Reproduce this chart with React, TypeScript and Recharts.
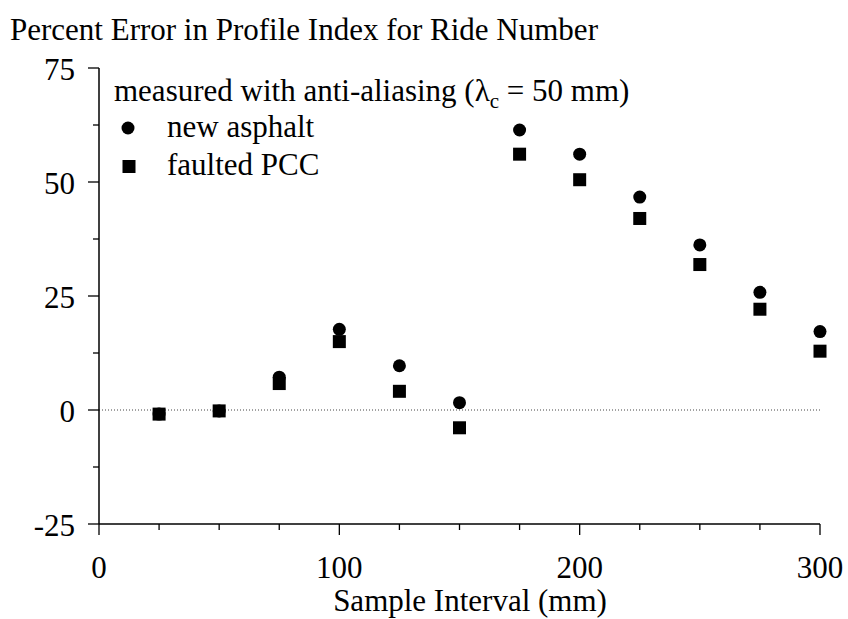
import React from 'react';
import { ScatterChart, Scatter, XAxis, YAxis, ReferenceLine, Customized } from 'recharts';

const sampleInterval = [25, 50, 75, 100, 125, 150, 175, 200, 225, 250, 275, 300];
const newAsphalt = [-0.9, -0.2, 7.2, 17.7, 9.7, 1.6, 61.4, 56.1, 46.7, 36.2, 25.8, 17.2];
const faultedPCC = [-0.9, -0.2, 5.8, 15.0, 4.1, -3.9, 56.1, 50.5, 42.0, 31.9, 22.1, 12.9];
const xTicks = [0, 25, 50, 75, 100, 125, 150, 175, 200, 225, 250, 275, 300];
const yTicks = [-25, -12.5, 0, 12.5, 25, 37.5, 50, 62.5, 75];
const xMajor = [0, 100, 200, 300];
const yMajor = [-25, 0, 25, 50, 75];

const asphaltData = sampleInterval.map((x, i) => ({ x, y: newAsphalt[i] }));
const pccData = sampleInterval.map((x, i) => ({ x, y: faultedPCC[i] }));

const FONT = '"Liberation Serif", "Times New Roman", serif';
const FS = 31;

const YTick = (props: any) => {
  const { x, y, payload } = props;
  const major = yMajor.includes(payload.value);
  return (
    <g>
      <line x1={x} x2={x - (major ? 11 : 6)} y1={y} y2={y} stroke="#000" strokeWidth={1.3} />
      {major && (
        <text x={x - 24} y={y + 12} textAnchor="end" fontFamily={FONT} fontSize={FS} fill="#000">
          {payload.value}
        </text>
      )}
    </g>
  );
};

const XTick = (props: any) => {
  const { x, y, payload } = props;
  const major = xMajor.includes(payload.value);
  return (
    <g>
      <line x1={x} x2={x} y1={y} y2={y + (major ? 11 : 6)} stroke="#000" strokeWidth={1.3} />
      {major && (
        <text x={x} y={y + 54} textAnchor="middle" fontFamily={FONT} fontSize={FS} fill="#000">
          {payload.value}
        </text>
      )}
    </g>
  );
};

const CircleShape = (p: any) => <circle cx={p.cx} cy={p.cy} r={6.5} fill="#000" />;
const SquareShape = (p: any) => <rect x={p.cx - 6.5} y={p.cy - 6.5} width={13} height={13} fill="#000" />;

const Annotations = () => (
  <g fontFamily={FONT} fill="#000">
    <text x={10} y={40} fontSize={FS}>Percent Error in Profile Index for Ride Number</text>
    <text x={114} y={101} fontSize={FS}>
      measured with anti-aliasing (λ<tspan fontSize={21} dy={7}>c</tspan>
      <tspan dy={-7}> = 50 mm)</tspan>
    </text>
    <circle cx={128} cy={128} r={6.5} />
    <text x={167} y={137} fontSize={FS}>new asphalt</text>
    <rect x={122.5} y={160} width={13} height={13} />
    <text x={167} y={175} fontSize={FS}>faulted PCC</text>
    <text x={470} y={611} fontSize={FS} textAnchor="middle">Sample Interval (mm)</text>
  </g>
);

export default function App() {
  return (
    <div style={{ position: 'absolute', left: 0, top: 0, background: '#fff' }}>
      <ScatterChart width={848} height={619} margin={{ top: 68, right: 28, bottom: 0, left: 0 }}>
        <XAxis
          type="number"
          dataKey="x"
          domain={[0, 300]}
          ticks={xTicks}
          interval={0}
          height={95}
          tickSize={0}
          tickMargin={0}
          tickLine={false}
          axisLine={{ stroke: '#000', strokeWidth: 1.5 }}
          tick={<XTick />}
        />
        <YAxis
          type="number"
          dataKey="y"
          domain={[-25, 75]}
          ticks={yTicks}
          interval={0}
          width={99}
          tickSize={0}
          tickMargin={0}
          tickLine={false}
          axisLine={{ stroke: '#000', strokeWidth: 1.5 }}
          tick={<YTick />}
        />
        <ReferenceLine y={0} stroke="#444" strokeWidth={1} strokeDasharray="1 2" />
        <Scatter data={asphaltData} shape={<CircleShape />} isAnimationActive={false} />
        <Scatter data={pccData} shape={<SquareShape />} isAnimationActive={false} />
        <Customized component={Annotations} />
      </ScatterChart>
    </div>
  );
}
